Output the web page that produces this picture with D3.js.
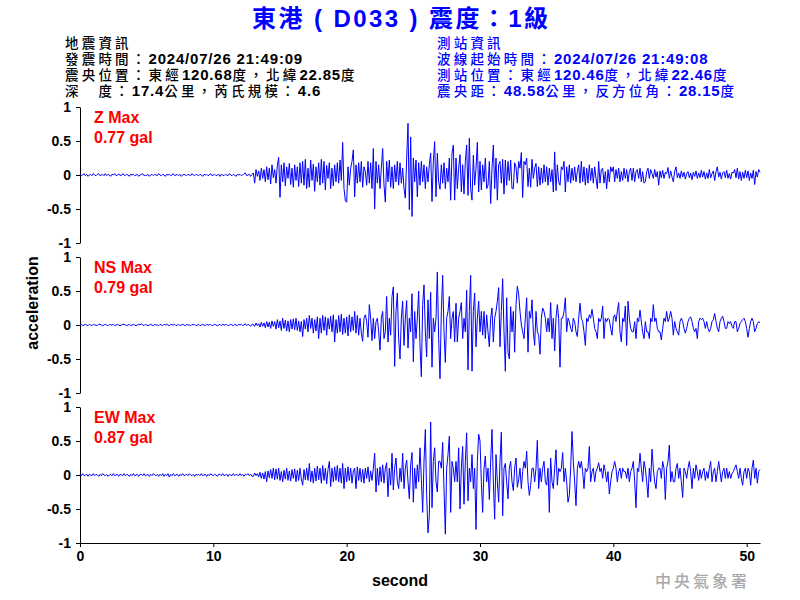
<!DOCTYPE html>
<html>
<head>
<meta charset="utf-8">
<script src="https://cdn.jsdelivr.net/npm/d3@7"></script>
<style>
body{margin:0;background:#fff;}
svg{display:block;}
</style>
</head>
<body>
<script>
// ---------------- DATA ----------------
const sampleInterval = 0.1; // seconds between samples
const xTicks = [0, 10, 20, 30, 40, 50];
const yTicks = [-1, -0.5, 0, 0.5, 1];
const channels = ["Z", "NS", "EW"];
const maxLabels = ["0.77 gal", "0.79 gal", "0.87 gal"];
const titleText = "東港 ( D033 ) 震度：1級";
const quakeInfo = ["地震資訊", "發震時間：2024/07/26 21:49:09", "震央位置：東經120.68度，北緯22.85度", "深　度：17.4公里，芮氏規模：4.6"];
const stationInfo = ["測站資訊", "波線起始時間：2024/07/26 21:49:08", "測站位置：東經120.46度，北緯22.46度", "震央距：48.58公里，反方位角：28.15度"];

const zValues = [
.01,-.01,0,.02,-.01,.01,-.02,0,.01,-.01,
.02,0,-.01,.01,.02,-.01,0,.01,-.01,.02,
-.01,.01,0,-.02,.01,0,.02,-.01,0,.01,
0,-.01,.02,0,-.01,.01,0,-.02,.01,0,
.01,-.01,0,.01,-.02,0,.01,.02,-.01,0,
-.01,.01,-.02,0,.01,-.01,.01,0,-.01,.02,
0,-.01,.01,0,-.02,.01,0,.01,-.01,0,
.02,-.01,0,.01,-.01,.01,-.02,0,.01,0,
-.01,.01,0,-.01,.02,0,-.01,.01,0,-.01,
.01,0,-.02,.01,0,.01,-.01,0,.02,-.01,
0,.01,-.01,0,.01,-.02,.01,0,-.01,.01,
0,-.01,.02,0,-.01,.01,0,-.02,.01,0,
.01,-.01,0,.02,.03,-.01,0,.01,-.02,.01,
.03,-.12,.08,-.02,.06,-.08,.1,-.05,.08,-.1,
.12,-.07,.1,-.13,.15,-.04,.08,-.12,.14,.26,
-.33,.15,-.1,.18,-.16,.12,-.05,.17,-.14,.1,
-.18,.15,-.08,.12,-.17,.18,-.12,.2,-.15,.23,
-.2,.1,-.18,.22,-.08,.16,-.24,.12,-.1,.18,
-.15,.23,-.12,.2,-.22,.14,-.05,.18,-.2,.1,
-.16,.15,-.1,.18,-.12,.22,-.08,.48,-.2,-.38,
-.4,.12,-.15,.1,.2,.37,-.32,.15,-.12,.18,
-.1,.2,-.18,.12,.05,-.15,.2,-.12,.18,-.2,
.39,-.5,.2,-.12,.15,-.2,.1,.39,-.15,-.4,
.2,-.1,.22,-.18,.12,-.2,.15,-.1,.2,-.15,
.18,-.12,.1,-.2,-.34,.24,.76,-.51,.56,-.61,
.25,-.1,.22,-.32,.18,-.15,.2,-.1,.15,-.2,
.12,-.1,.15,.32,-.39,.2,.49,-.32,.32,-.1,
-.21,.15,-.12,.18,-.2,.1,-.1,.25,-.37,.32,
.44,-.37,.25,-.2,.1,.3,-.25,.15,-.28,.2,
.44,-.3,.54,-.2,-.37,.29,-.15,.1,.48,-.25,
.2,-.22,.15,-.1,.25,-.2,-.15,.2,-.42,.1,
.44,-.2,.25,-.37,.15,.2,-.12,.23,-.28,.22,
-.15,.2,-.08,.22,-.2,-.2,.18,.12,-.12,.2,
.1,.33,-.33,.2,.15,.25,-.17,.1,-.18,.23,
-.05,.1,.17,-.17,.12,-.15,.1,-.12,.15,-.1,
.12,-.15,.1,-.1,.08,-.25,.34,-.23,.15,-.1,
-.15,.12,.08,.2,-.25,.12,-.1,.15,-.12,.1,
-.08,.12,-.1,.05,.15,-.12,.2,-.1,.12,-.15,
.1,-.12,.15,-.08,.1,-.12,.12,-.05,-.2,.2,
-.12,.08,.1,-.12,.05,-.2,.08,-.1,.12,.05,
.12,-.1,.08,-.05,.1,-.1,.05,-.08,.1,-.05,
.08,-.1,.05,.1,-.08,.1,-.1,.05,.08,-.05,
.1,-.1,.05,-.12,-.1,.05,.1,-.05,.08,.02,
-.05,.08,-.03,.05,-.15,.06,-.04,.07,-.05,.04,
.02,.11,-.05,.06,-.03,-.1,.05,.12,-.04,.03,
-.05,.06,-.03,.04,-.06,.02,.05,-.04,.03,-.07,
.04,-.02,.06,-.05,.03,-.04,.07,-.03,.05,-.06,
.03,-.05,.08,-.04,.02,.06,-.08,.05,.12,-.03,
.04,-.06,.03,.05,-.04,.07,-.05,.02,-.06,.04,
.03,.08,-.04,.1,-.06,.05,-.08,.04,-.05,.07,
-.04,.06,-.08,.03,-.05,.07,-.14,.05,-.03,.08,
.04];

const nsValues = [
0,.01,-.01,0,.01,0,-.01,.01,0,-.01,
.01,0,0,-.01,.01,.01,0,-.01,0,.01,
0,-.01,.01,0,0,.01,-.01,0,.01,0,
-.01,0,.01,.01,0,-.01,0,.01,-.01,0,
.01,0,-.01,0,.01,0,.02,0,-.01,.01,
0,-.01,0,.01,0,-.01,.01,0,0,-.01,
.01,0,-.01,.01,0,.01,0,-.01,.01,0,
0,.01,-.01,0,.01,-.01,0,.01,0,-.01,
.01,0,0,-.01,.01,0,.01,-.01,0,.01,
-.01,0,.01,0,-.01,.01,0,0,.01,-.01,
0,.01,0,-.01,0,.01,-.01,.01,0,0,
.01,-.01,0,.01,0,-.01,.01,0,-.01,.01,
0,.01,-.01,0,.02,-.01,.01,0,-.02,.01,
.01,-.02,.03,-.01,.02,-.03,.04,-.02,.03,-.04,
.05,-.03,.04,-.05,.06,-.02,.05,-.06,.08,-.04,
.06,-.08,.1,-.05,.07,-.09,.06,-.1,.08,-.06,
.09,-.07,.1,-.08,.06,-.1,.05,-.17,.08,-.06,
.1,-.1,.14,-.05,.1,-.12,.08,-.09,.12,-.2,
.1,-.12,.14,-.08,.12,-.15,.1,-.06,.13,-.1,
.15,-.25,.08,-.12,.14,-.1,.16,-.14,.1,-.12,
.12,-.16,.15,-.1,.12,-.08,.2,-.12,.14,-.15,
.1,-.12,-.24,.1,.15,.05,-.18,.3,.1,-.23,
.1,-.2,.05,.1,-.1,-.37,.1,.2,-.2,-.1,
.42,-.25,.1,-.15,.42,.56,-.61,.2,.47,-.2,
-.5,.1,.35,-.3,.1,.36,-.34,.1,-.1,.46,
-.54,.2,-.2,.1,.5,-.3,-.76,.3,.59,-.1,
-.47,.37,-.2,.48,-.62,.1,-.1,.1,.78,-.2,
-.79,.2,.73,-.1,-.55,.1,.2,.42,-.2,.1,
.2,-.25,.32,-.25,.1,.2,.33,-.2,.1,-.1,
.51,-.66,.2,.73,-.68,.2,.47,-.32,.1,.35,
-.1,.2,-.15,.2,-.2,.15,-.1,-.32,.1,.25,
-.25,.1,.2,.35,.55,-.32,.2,.68,-.1,-.68,
.4,-.4,-.5,.27,-.1,.2,-.4,.3,.57,.45,
.2,0,-.1,-.2,.1,.4,-.4,.2,.1,.37,
-.1,-.3,.2,-.1,-.15,-.43,.1,.25,.2,.1,
-.1,.1,-.1,.33,-.2,.1,-.38,.1,.3,.1,
-.62,.1,.1,.2,.4,-.1,.1,.05,-.05,-.1,
.1,.05,-.1,-.17,.1,.32,.1,.05,-.1,-.3,
.1,.05,.15,.1,.23,.1,-.05,-.1,-.2,.1,
.05,.1,.28,-.2,.1,.05,.1,.08,-.05,-.15,
.1,.15,.05,.2,.33,-.1,-.25,.1,.05,.28,
-.3,.35,.1,-.05,-.1,-.1,.05,-.2,.1,.05,
.22,.05,-.1,-.2,.05,-.1,-.1,-.2,.1,.05,
.3,.05,.1,-.05,-.1,-.1,-.22,-.05,.1,.05,
.2,.05,.1,.2,.1,-.15,.05,-.05,-.1,-.15,
.05,.1,.05,-.05,-.12,-.05,.05,.1,.12,.05,
-.05,-.1,-.05,-.2,.05,.1,.08,.1,.05,-.05,
.05,-.05,-.1,-.05,.05,.08,.17,.05,-.05,-.1,
.05,.1,.13,.05,-.05,-.05,.05,.02,.05,-.02,
-.05,.05,.05,-.1,-.05,.02,.05,.08,.1,.05,
-.05,-.18,-.05,.05,.1,.05,-.1,-.05,.02,.05,
.03];

const ewValues = [
.01,-.01,.02,-.01,0,.01,-.02,.01,0,-.01,
.02,-.01,.01,0,-.02,.01,-.01,.02,0,-.01,
.01,-.02,0,.01,-.01,.02,-.01,0,.01,-.02,
.01,0,-.01,.02,-.01,.01,0,-.02,.01,-.01,
.02,-.01,0,.01,-.02,.01,.01,-.01,.02,-.01,
0,.01,-.02,.01,-.01,.02,0,-.01,.01,-.02,
.01,-.01,.02,-.02,.01,-.01,.02,-.03,.01,-.01,
.02,-.01,0,.01,-.02,.01,-.01,.02,-.01,0,
.01,-.01,.02,0,-.01,.01,-.02,.01,0,.01,
-.01,.02,-.01,0,.01,-.02,.01,-.01,.02,0,
-.01,.01,0,-.02,.01,.01,-.01,.02,-.01,0,
.01,-.02,.01,0,-.01,.02,-.01,.01,0,-.01,
.02,-.01,.01,-.02,.01,0,.02,-.01,.01,-.02,
-.02,.03,-.01,.02,-.03,.04,-.05,.03,-.06,.05,
-.1,.06,-.04,.08,-.05,.1,-.07,.09,-.06,.1,
-.08,.05,-.1,.07,-.06,.1,-.08,.06,-.09,.08,
-.05,.09,-.1,.07,-.08,.1,-.06,-.15,.08,-.07,
.1,-.08,.17,-.1,.06,-.12,.1,-.09,.13,-.07,
.1,-.12,.14,-.08,.1,-.13,.08,.2,-.17,.1,
-.1,.12,-.08,.14,-.1,.1,-.12,.17,-.2,.1,
-.1,.12,-.08,.1,-.12,.06,.1,-.2,.12,-.08,
.1,-.1,.08,-.12,.1,-.05,.12,-.1,.06,-.08,
.1,.32,-.25,.1,-.15,.12,-.1,.15,-.12,.1,
.18,-.32,.1,-.15,.32,-.22,.1,.25,-.1,-.2,
.1,-.1,.32,-.2,.1,.22,-.1,-.35,.15,.33,
-.4,.1,-.2,.15,-.1,.4,-.05,-.55,.2,.67,
-.3,-.85,-.6,.78,-.48,.2,.4,-.1,-.25,.2,
.2,.1,.48,-.2,-.87,.1,.3,.57,-.55,.2,
.1,-.1,.2,-.1,.4,-.5,.1,.42,-.43,.2,
.62,-.38,.1,-.1,.3,-.2,.1,-.8,.2,.6,
.5,-.1,-.55,.1,.28,-.1,.1,-.36,.2,.67,
-.1,-.65,.3,-.1,-.4,.2,.63,-.6,.1,.17,
-.1,-.35,.1,.2,-.1,-.23,.1,.25,-.18,-.07,
.1,-.2,.05,.2,.1,.35,-.1,-.3,-.15,.1,
.1,-.1,.1,.51,-.2,.1,-.1,.1,.2,-.1,
-.15,.1,-.55,.25,-.1,-.2,.1,.37,-.15,.1,
.05,.1,.33,-.1,.1,-.1,-.4,-.3,.1,.64,
.2,-.1,-.45,.1,.2,.1,.2,.05,-.2,.1,
.05,.1,.42,-.1,.05,.1,-.1,.05,.1,.18,
.05,.1,-.05,.15,.05,-.1,.05,-.28,-.1,.05,
.1,.2,.1,-.1,.05,.1,-.05,.1,.05,.05,
-.05,.1,-.1,.05,.1,.2,-.1,-.48,.1,.05,
.32,.1,-.1,.2,.1,-.1,-.33,.1,-.1,.38,
.1,-.1,-.2,.05,.1,.1,-.05,.2,.1,-.36,
.1,.2,.44,-.1,.05,-.1,-.1,.1,.17,-.05,
.1,-.1,-.33,.1,.05,-.05,.1,.2,.05,-.2,
.1,-.05,.15,.05,-.08,.08,-.05,.05,.1,-.08,
.05,-.05,.1,.2,-.1,.05,.1,-.1,.05,.2,
.05,-.1,.05,.1,-.05,.1,-.05,.05,-.05,.02,
.05,.1,.15,.05,-.05,.1,-.05,-.15,.05,.1,
-.05,.1,.05,-.15,.1,.22,-.05,.1,-.12,.05,
.08];

const series = [zValues, nsValues, ewValues];

// ---------------- DRAW ----------------
const W = 800, H = 600;
const svg = d3.select("body").append("svg").attr("width", W).attr("height", H)
  .style("font-family", "'Liberation Sans', Arial, 'Noto Sans CJK TC', sans-serif");

const latin = "'Liberation Sans', Arial, sans-serif";
const cjkFont = "'Noto Sans CJK TC', 'Noto Sans CJK SC', sans-serif";
const cjkRe = /[\u3000-\u303f\u4e00-\u9fff\uff00-\uffef]/;

function mixed(x, y, str, color) {
  const t = svg.append("text").attr("x", x).attr("y", y).attr("fill", color);
  const runs = str.match(/[\u3000-\u303f\u4e00-\u9fff\uff00-\uffef]+|[^\u3000-\u303f\u4e00-\u9fff\uff00-\uffef]+/g);
  runs.forEach(r => {
    const c = cjkRe.test(r);
    t.append("tspan").text(r)
      .attr("font-family", c ? cjkFont : latin)
      .attr("font-size", c ? 13.5 : 15)
      .attr("font-weight", c ? 500 : "bold")
      .attr("letter-spacing", c ? 3.2 : 0.8);
  });
}

// Title
svg.append("text").attr("x", 252).attr("y", 27)
  .attr("textLength", 296).attr("lengthAdjust", "spacing")
  .attr("fill", "#0000ff").attr("font-size", 24).attr("font-weight", "bold")
  .attr("font-family", "'Liberation Sans', 'Noto Sans CJK TC', sans-serif")
  .text(titleText);

quakeInfo.forEach((s, i) => mixed(65, 48 + i * 16, s, "#000"));
stationInfo.forEach((s, i) => mixed(437, 48 + i * 16, s, "#0000ff"));

const x = d3.scaleLinear().domain([0, 51]).range([80, 760]);
const panelTop = [107, 257, 407];
const panelH = 136;

series.forEach((vals, k) => {
  const y = d3.scaleLinear().domain([-1, 1]).range([panelTop[k] + panelH, panelTop[k]]);
  const ax = svg.append("g").attr("transform", "translate(80,0)")
    .call(d3.axisLeft(y).tickValues(yTicks).tickSize(4).tickSizeOuter(0).tickPadding(5)
      .tickFormat(d => String(d)));
  ax.selectAll("text").attr("font-size", 14).attr("font-weight", "bold")
    .attr("font-family", latin).attr("fill", "#000");
  ax.selectAll("line,path").attr("stroke", "#000");

  const line = d3.line().x((d, i) => x(i * sampleInterval)).y(d => y(d));
  svg.append("path").datum(vals).attr("d", line)
    .attr("fill", "none").attr("stroke", "#0000ff").attr("stroke-width", 1);

  svg.append("text").attr("x", 94).attr("y", panelTop[k] + 16)
    .attr("fill", "#ff0000").attr("font-size", 16).attr("font-weight", "bold")
    .attr("font-family", latin).text(channels[k] + " Max");
  svg.append("text").attr("x", 94).attr("y", panelTop[k] + 36)
    .attr("fill", "#ff0000").attr("font-size", 16).attr("font-weight", "bold")
    .attr("font-family", latin).text(maxLabels[k]);
});

const xa = svg.append("g").attr("transform", "translate(0,543)")
  .call(d3.axisBottom(x).tickValues(xTicks).tickSize(4).tickSizeOuter(0).tickPadding(4));
xa.selectAll("text").attr("font-size", 14).attr("font-weight", "bold")
  .attr("font-family", latin).attr("fill", "#000");
xa.selectAll("line,path").attr("stroke", "#000");

svg.append("text").attr("x", 400).attr("y", 586).attr("text-anchor", "middle")
  .attr("font-size", 16).attr("font-weight", "bold").attr("font-family", latin).text("second");
svg.append("text").attr("transform", "translate(38,303) rotate(-90)").attr("text-anchor", "middle")
  .attr("font-size", 16).attr("font-weight", "bold").attr("font-family", latin).text("acceleration");

svg.append("text").attr("x", 655).attr("y", 587)
  .attr("font-size", 16).attr("font-weight", 500).attr("letter-spacing", 3)
  .attr("font-family", cjkFont).attr("fill", "#a8a8a8").text("中央氣象署");
</script>
</body>
</html>
